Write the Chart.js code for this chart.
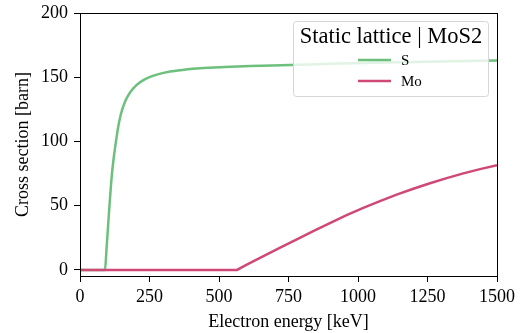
<!DOCTYPE html>
<html>
<head>
<meta charset="utf-8">
<script src="https://cdn.jsdelivr.net/npm/chart.js@4/dist/chart.umd.min.js"></script>
<style>
  html, body { margin: 0; padding: 0; background: #fff; }
  #wrap { width: 522px; height: 333px; }
</style>
</head>
<body>
<div id="wrap"><canvas id="chart_canvas" width="522" height="333"></canvas></div>
<script>
// cross sections vs electron energy, static lattice MoS2
const energyS = [0, 90, 95, 100, 105, 110, 115, 120, 126, 132, 138, 144, 152, 162, 174, 186, 204, 222, 252, 276, 324, 380, 432, 520, 612, 755, 900, 1100, 1300, 1500];
const sigmaS = [0, 0, 15, 31, 47, 62, 75, 85, 95, 104, 112, 118.5, 125, 131, 136, 139.8, 144, 147, 150.3, 152, 154.4, 156, 157, 158, 158.8, 159.5, 160.5, 161.5, 162.3, 163];
const energyMo = [0, 565, 600, 660, 720, 780, 839, 899, 959, 1019, 1079, 1139, 1199, 1259, 1319, 1379, 1439, 1500];
const sigmaMo = [0, 0, 4.2, 10.8, 17.3, 23.8, 30.2, 36.5, 42.6, 48.3, 53.6, 58.6, 63.2, 67.5, 71.5, 75.2, 78.5, 81.5];
const xTicks = [0, 250, 500, 750, 1000, 1250, 1500];
const yTicks = [0, 50, 100, 150, 200];
const legendTitle = 'Static lattice | MoS2';

const serif = '"Liberation Serif", "DejaVu Serif", serif';
const green = '#6cc07c';
const pink = '#d04878';

const toPoints = (xs, ys) => xs.map((x, i) => ({ x: x, y: ys[i] }));

// box around the plot plus the boxed legend in the upper right
const framePlugin = {
  id: 'frame',
  afterDraw(chart) {
    const c = chart.ctx;
    const a = chart.chartArea;
    c.save();
    c.strokeStyle = '#000';
    c.lineWidth = 1;
    c.strokeRect(a.left + 0.5, a.top + 0.5, a.right - a.left, a.bottom - a.top);

    // legend
    const bx = 293.5, by = 21.5, bw = 195, bh = 75;
    c.beginPath();
    c.roundRect(bx, by, bw, bh, 3);
    c.fillStyle = 'rgba(255,255,255,0.8)';
    c.fill();
    c.strokeStyle = '#d6d6d6';
    c.stroke();

    c.fillStyle = '#000';
    c.font = '22.5px ' + serif;
    c.textAlign = 'center';
    c.textBaseline = 'alphabetic';
    c.fillText(legendTitle, 391, 43);

    c.font = '15px ' + serif;
    c.textAlign = 'left';
    c.textBaseline = 'middle';
    chart.data.datasets.forEach((ds, i) => {
      const y = 60 + i * 21;
      c.strokeStyle = ds.borderColor;
      c.lineWidth = 2.5;
      c.beginPath();
      c.moveTo(358, y);
      c.lineTo(391, y);
      c.stroke();
      c.fillStyle = '#000';
      c.fillText(ds.label, 401, y + 1);
    });
    c.restore();
  }
};

let ctx = document.getElementById('chart_canvas');
let chart = new Chart(ctx, {
  type: 'line',
  data: {
    datasets: [{
      label: 'S',
      data: toPoints(energyS, sigmaS),
      borderColor: green,
      borderWidth: 2.5,
      pointRadius: 0,
      cubicInterpolationMode: 'monotone',
      order: 1
    }, {
      label: 'Mo',
      data: toPoints(energyMo, sigmaMo),
      borderColor: pink,
      borderWidth: 2.5,
      pointRadius: 0,
      tension: 0,
      order: 0
    }]
  },
  options: {
    responsive: false,
    animation: false,
    layout: { padding: { top: 13, right: 25, left: 0, bottom: 0 } },
    plugins: { legend: { display: false }, tooltip: { enabled: false } },
    scales: {
      x: {
        type: 'linear',
        min: 0,
        max: 1500,
        afterBuildTicks: (s) => { s.ticks = xTicks.map(v => ({ value: v })); },
        afterFit: (s) => { s.height = 57; s.paddingLeft = 0; s.paddingRight = 0; },
        grid: { drawOnChartArea: false, drawTicks: true, tickLength: 6, tickColor: '#000' },
        border: { color: '#000' },
        ticks: { color: '#000', font: { family: serif, size: 18 }, padding: 4, maxRotation: 0, callback: (v) => String(v) },
        title: { display: true, text: 'Electron energy [keV]', color: '#000', font: { family: serif, size: 18 }, padding: { top: 0, bottom: 0 } }
      },
      y: {
        min: -4.7,
        max: 200,
        afterBuildTicks: (s) => { s.ticks = yTicks.map(v => ({ value: v })); },
        afterFit: (s) => { s.width = 80; s.paddingTop = 0; s.paddingBottom = 0; },
        grid: { drawOnChartArea: false, drawTicks: true, tickLength: 6, tickColor: '#000' },
        border: { color: '#000' },
        ticks: { color: '#000', font: { family: serif, size: 18 }, padding: 6, callback: (v) => String(v) },
        title: { display: true, text: 'Cross section [barn]', color: '#000', font: { family: serif, size: 18 }, padding: { top: 12, bottom: 0 } }
      }
    }
  },
  plugins: [framePlugin]
});
</script>
</body>
</html>
